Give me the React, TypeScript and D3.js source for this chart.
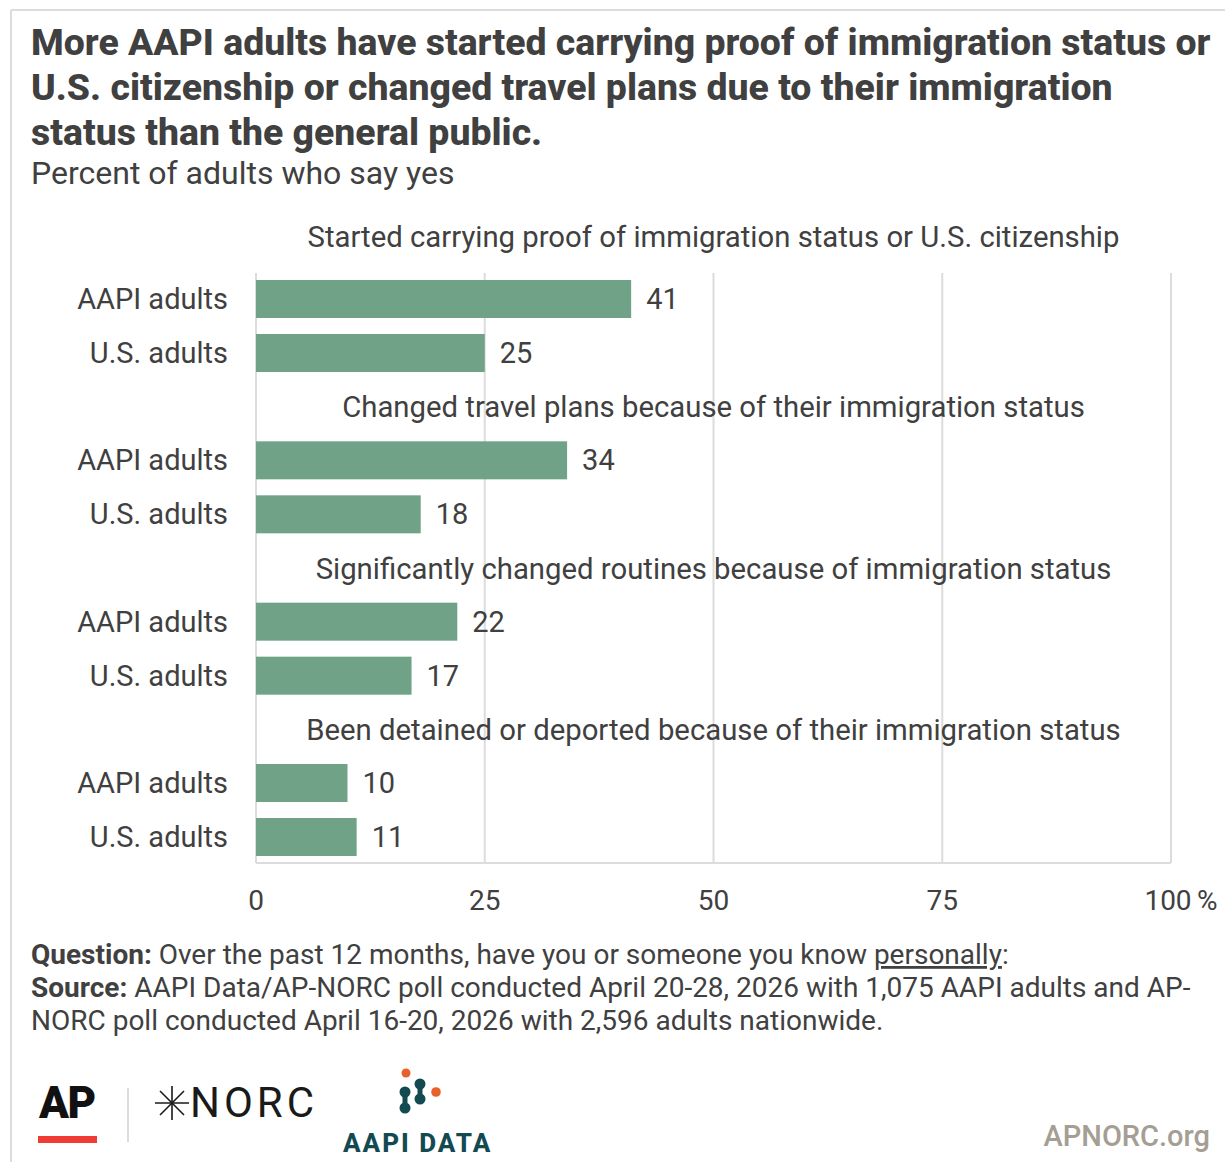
import React from "react";
import * as d3 from "d3";

const groups = [
  "Started carrying proof of immigration status or U.S. citizenship",
  "Changed travel plans because of their immigration status",
  "Significantly changed routines because of immigration status",
  "Been detained or deported because of their immigration status",
];
const seriesNames = ["AAPI adults", "U.S. adults"];
const aapiValues = [41, 34, 22, 10];
const usValues = [25, 18, 17, 11];
const xTicks = [0, 25, 50, 75, 100];

const W = 1225;
const H = 1162;
const FONT = "Roboto, 'Noto Sans', sans-serif";
const TEXT = "#404040";
const BAR = "#6fa287";
const GRID = "#dcdcdc";
const TEAL = "#134a52";

export default function App() {
  const x = d3.scaleLinear().domain([0, 100]).range([256, 1171]);
  const gy = d3.scaleLinear().domain([0, groups.length - 1]).range([280, 764]);
  const inner = d3.scaleBand<number>().domain([0, 1]).range([0, 92]).paddingInner(16 / 54);
  const plotTop = 273;
  const plotBottom = 863;

  const rows = groups.map((g, i) => ({ g, vals: [aapiValues[i], usValues[i]] }));

  const pill = (cx: number, y1: number, y2: number) => (
    <g fill={TEAL}>
      <circle cx={cx} cy={y1} r={5.5} />
      <circle cx={cx} cy={y2} r={5.5} />
      <rect x={cx - 2.5} y={y1} width={5} height={y2 - y1} />
    </g>
  );

  return (
    <div style={{ position: "absolute", left: 0, top: 0 }}>
      <svg width={W} height={H} style={{ display: "block", fontFamily: FONT }}>
        <rect x={0} y={0} width={W} height={H} fill="#fff" />
        {/* frame */}
        <line x1={11} x2={W} y1={10} y2={10} stroke={GRID} strokeWidth={2} />
        <line x1={11} x2={11} y1={10} y2={H} stroke={GRID} strokeWidth={2} />

        {/* title */}
        <g fill={TEXT} fontWeight={800} fontSize={37.4}>
          <text x={31} y={55}>More AAPI adults have started carrying proof of immigration status or</text>
          <text x={31} y={100}>U.S. citizenship or changed travel plans due to their immigration</text>
          <text x={31} y={145}>status than the general public.</text>
        </g>
        <text x={31} y={184} fill={TEXT} fontSize={32}>Percent of adults who say yes</text>

        {/* grid */}
        {xTicks.map((t) => (
          <line key={t} x1={x(t)} x2={x(t)} y1={plotTop} y2={plotBottom} stroke={GRID} strokeWidth={2} />
        ))}
        <line x1={x(0)} x2={x(100)} y1={plotBottom} y2={plotBottom} stroke={GRID} strokeWidth={2} />

        {rows.map((r, gi) => {
          const top = gy(gi);
          return (
            <g key={gi}>
              <text
                x={(x(0) + x(100)) / 2}
                y={top - (gi === 0 ? 33 : 24)}
                textAnchor="middle"
                fill={TEXT}
                fontSize={29.3}
              >
                {r.g}
              </text>
              {r.vals.map((v, si) => {
                const y0 = top + (inner(si) as number);
                const bh = inner.bandwidth();
                return (
                  <g key={si}>
                    <rect x={x(0)} y={y0} width={x(v) - x(0)} height={bh} fill={BAR} />
                    <text x={228} y={y0 + bh / 2 + 10} textAnchor="end" fill={TEXT} fontSize={29}>
                      {seriesNames[si]}
                    </text>
                    <text x={x(v) + 15} y={y0 + bh / 2 + 10} fill={TEXT} fontSize={29}>
                      {v}
                    </text>
                  </g>
                );
              })}
            </g>
          );
        })}

        {/* x axis labels */}
        {xTicks.map((t) => (
          <text key={t} x={x(t) - (t === 100 ? 3 : 0)} y={910} textAnchor="middle" fill={TEXT} fontSize={28}>
            {t}
          </text>
        ))}
        <text x={x(100) + 26} y={910} fill={TEXT} fontSize={28}>%</text>

        {/* footer notes */}
        <g fill={TEXT} fontSize={28}>
          <text x={31} y={964}>
            <tspan fontWeight={700}>Question:</tspan>
            <tspan> Over the past 12 months, have you or someone you know </tspan>
            <tspan textDecoration="underline">personally</tspan>
            <tspan>:</tspan>
          </text>
          <text x={31} y={997}>
            <tspan fontWeight={700}>Source:</tspan>
            <tspan> AAPI Data/AP-NORC poll conducted April 20-28, 2026 with 1,075 AAPI adults and AP-</tspan>
          </text>
          <text x={31} y={1030}>NORC poll conducted April 16-20, 2026 with 2,596 adults nationwide.</text>
        </g>

        {/* AP logo */}
        <text x={39} y={1118} fontSize={44} fontWeight={900} fill="#111" letterSpacing={-1.5}>AP</text>
        <rect x={38} y={1136} width={59} height={7} fill="#ef3b33" />
        <line x1={128} x2={128} y1={1088} y2={1142} stroke={GRID} strokeWidth={2} />

        {/* NORC logo */}
        <g stroke="#1a1a1a" strokeWidth={1.6}>
          {[0, 45, 90, 135].map((a) => {
            const rad = (a * Math.PI) / 180;
            const cx = 172;
            const cy = 1103;
            const r = 17;
            return (
              <line
                key={a}
                x1={cx - r * Math.cos(rad)}
                y1={cy - r * Math.sin(rad)}
                x2={cx + r * Math.cos(rad)}
                y2={cy + r * Math.sin(rad)}
              />
            );
          })}
        </g>
        <text x={190} y={1117} fontSize={42} fontWeight={400} fill="#1a1a1a" letterSpacing={4}>NORC</text>

        {/* AAPI DATA logo */}
        <circle cx={406} cy={1073} r={4.5} fill="#e8612c" />
        <circle cx={436} cy={1092} r={4.8} fill="#e8612c" />
        {pill(405, 1092, 1108)}
        {pill(420, 1084, 1099)}
        <text x={343} y={1152} fontSize={26} fontWeight={800} fill={TEAL} letterSpacing={2}>AAPI DATA</text>

        <text x={1210} y={1146} textAnchor="end" fontSize={29} fontWeight={500} fill="#a59e94">APNORC.org</text>
      </svg>
    </div>
  );
}
